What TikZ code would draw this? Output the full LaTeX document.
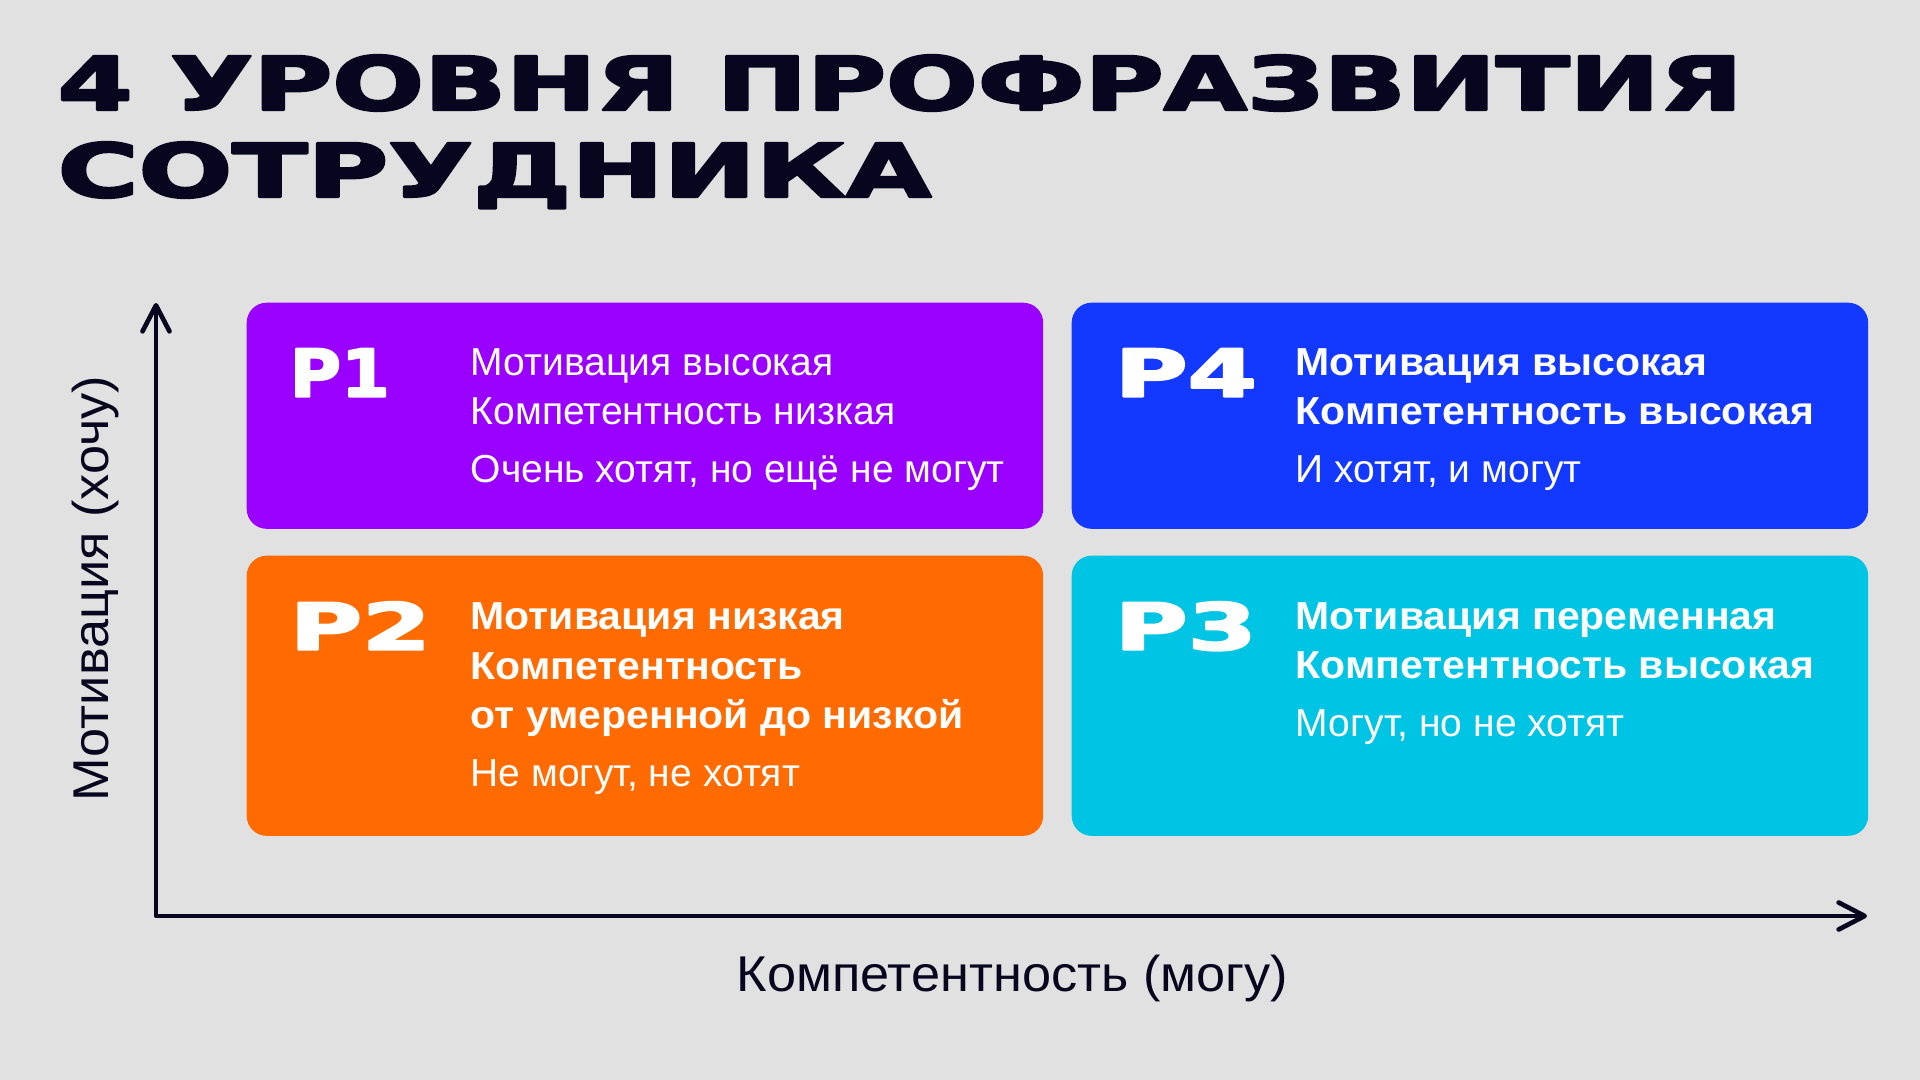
\documentclass[tikz,border=0pt]{standalone}
\usepackage{fontspec}
\usetikzlibrary{arrows.meta,positioning}

\setmainfont{Liberation Sans}[BoldFeatures={FakeStretch=1.05}]
\newfontfamily\widefont[FakeBold=3]{DejaVu Sans Bold}

\definecolor{paper}{HTML}{E1E1E1}
\definecolor{ink}{HTML}{08061F}
\definecolor{cardA}{HTML}{9A00FF}
\definecolor{cardB}{HTML}{FF6B00}
\definecolor{cardC}{HTML}{00C4E3}
\definecolor{cardD}{HTML}{1338FF}

\begin{document}
\begin{tikzpicture}[
  x=0.01cm, y=-0.01cm,
  line join=round,
  card/.style={rounded corners=0.2cm, minimum width=7.96cm,
    inner sep=0pt, anchor=north west},
  tag/.style={inner sep=0pt, text=white, anchor=north west},
  headreg/.style={inner sep=0pt, text=white, align=left, anchor=base west,
    font=\fontsize{11.1}{14.2}\selectfont},
  headbold/.style={headreg, font=\fontsize{11.1}{14.2}\selectfont\bfseries},
  note/.style={inner sep=0pt, text=white, anchor=base west,
    font=\fontsize{11.1}{14.2}\selectfont},
  axis/.style={draw=ink, line width=1.33pt, line cap=round,
    {Straight Barb[length=0.26cm, width=0.27cm, round]}-{Straight Barb[length=0.26cm, width=0.27cm, round]}},
  axlabel/.style={inner sep=0pt, text=ink, anchor=base west,
    font=\fontsize{14.3}{17}\selectfont\addfontfeatures{FakeStretch=1.04}},
  title/.style={inner sep=0pt, text=ink, anchor=base west},
]
\useasboundingbox (0,0) rectangle (1920,1080);
\fill[paper] (0,0) rectangle (1920,1080);

% ── the title ─────────────────────────────────────────────────────────────
\node[title] (title1) at (57,110) {\resizebox{16.84cm}{0.55cm}{\widefont 4 УРОВНЯ ПРОФРАЗВИТИЯ}};
\node[title] (title2) at (57,197) {\resizebox{8.73cm}{0.55cm}{\widefont СОТРУДНИКА}};

% ── the four cards ────────────────────────────────────────────────────────
\foreach \n/\x/\y/\h/\col/\tw/\hs/\head/\hy/\note in {%
  1/246/302/2.26/cardA/1.00/headreg/{Мотивация высокая\\Компетентность низкая}/123/{Очень хотят, но ещё не могут},
  4/1071/302/2.26/cardD/1.42/headbold/{Мотивация высокая\\Компетентность высокая}/123/{И хотят, и могут},
  2/246/555/2.80/cardB/1.41/headbold/{Мотивация низкая\\Компетентность\\от умеренной до низкой}/174/{Не могут, не хотят},
  3/1071/555/2.80/cardC/1.42/headbold/{Мотивация переменная\\Компетентность высокая}/124/{Могут, но не хотят}%
} {
  \node[card, fill=\col, minimum height=\h cm] (card\n) at (\x,\y) {};
  \node[tag, below right=0.46cm and 0.43cm of card\n.north west] (tag\n)
    {\resizebox{\tw cm}{0.48cm}{\widefont P\n}};
  \node[\hs] (head\n) at ([shift={(224,\hy)}]card\n.north west) {\head};
  \node[note] (note\n) at ([shift={(0,58)}]head\n.base west) {\note};
}

% ── the axes ──────────────────────────────────────────────────────────────
\coordinate (origin) at (156,916);
\coordinate (ytip) at (156,303);
\coordinate (xtip) at (1867,916);
\draw[axis] (ytip) -- (origin) -- (xtip);

\node[axlabel] (xlabel) at (736,992) {Компетентность (могу)};
\node[axlabel, rotate=90] (ylabel) at (108,802) {Мотивация (хочу)};

\end{tikzpicture}
\end{document}
